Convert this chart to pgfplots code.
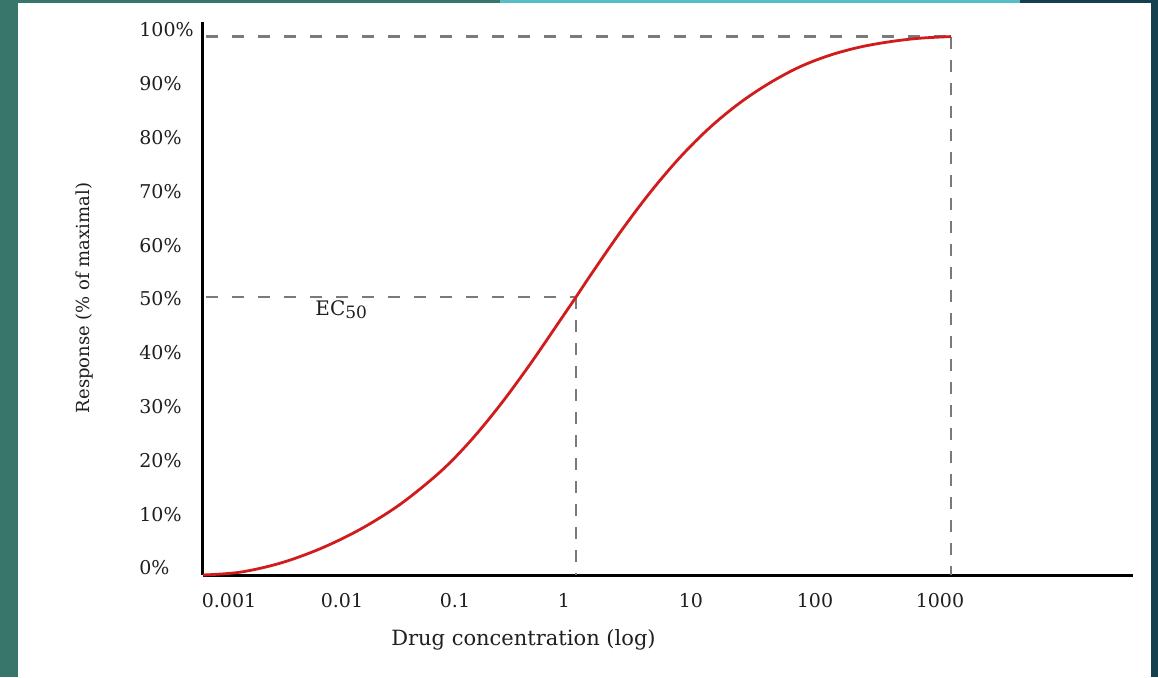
\documentclass[border=0pt]{standalone}
\usepackage{pgfplots}
\pgfplotsset{compat=1.18}
\usepackage{fontspec}
\setmainfont{DejaVu Serif}
\definecolor{teal1}{RGB}{56,118,108}
\definecolor{cyanbar}{RGB}{86,190,198}
\definecolor{darkbar}{RGB}{22,64,78}
\definecolor{curvered}{RGB}{208,28,28}
\definecolor{dashgray}{RGB}{122,122,122}
\pgfplotstableread{
x y
-2.984 -1.30
-2.688 -0.78
-2.368 0.89
-2.048 3.57
-1.728 7.17
-1.408 11.82
-1.088 17.84
-0.848 23.53
-0.608 30.28
-0.368 37.86
-0.128 46.00
0 50.37
0.112 54.29
0.352 62.36
0.592 69.78
0.832 76.34
1.072 81.91
1.312 86.49
1.552 90.20
1.792 93.18
2.032 95.33
2.272 96.84
2.512 97.84
2.752 98.49
3.0 98.79
}\curvedata
\begin{document}
\begin{tikzpicture}
\fill[teal1] (0pt,0pt) rectangle (579pt,338.5pt);
\fill[cyanbar] (250pt,337pt) rectangle (510pt,338.5pt);
\fill[darkbar] (510pt,337pt) rectangle (579pt,338.5pt);
\fill[darkbar] (575.5pt,0pt) rectangle (579pt,338.5pt);
\fill[white] (9pt,0pt) rectangle (575.5pt,337pt);
\path[use as bounding box] (0pt,0pt) rectangle (579pt,338.5pt);
\begin{axis}[
  at={(101.5pt,51pt)}, anchor=south west,
  scale only axis, width=465pt, height=276.5pt,
  xmin=-2.984, xmax=4.456, ymin=-1.3, ymax=101.5,
  axis x line=bottom, axis y line=left,
  axis line style={-, line width=1.5pt, black},
  clip=false,
  major tick length=0pt,
  xtick={-2.776,-1.872,-0.968,-0.096,0.92,1.912,2.912},
  xticklabels={0.001,0.01,0.1,1,10,100,1000},
  ytick={0,10,20,30,40,50,60,70,80,90,100},
  yticklabels={0\%,10\%,20\%,30\%,40\%,50\%,60\%,70\%,80\%,90\%,100\%},
  xticklabel style={anchor=base, yshift=-16pt, font=\fontsize{9.5}{11}\selectfont, text=black!88},
  yticklabel style={anchor=west, inner sep=0pt, xshift=-32pt, font=\fontsize{9.5}{11}\selectfont, text=black!88},
  every axis x label/.style={at={(rel axis cs:0.3446,-0.1175)}, anchor=center},
  every axis y label/.style={at={(rel axis cs:-0.127,0.501)}, rotate=90, anchor=center},
  xlabel={Drug concentration (log)},
  ylabel={Response (\% of maximal)},
  xlabel style={font=\fontsize{10.5}{12}\selectfont, text=black!88},
  ylabel style={font=\fontsize{9}{11}\selectfont, text=black!88},
]
\addplot[dashgray, line width=1.3pt, dash pattern=on 6pt off 7pt] coordinates {(-2.96,98.79) (3,98.79)};
\addplot[dashgray, line width=1.3pt, dash pattern=on 6pt off 5.5pt] coordinates {(3,98.79) (3,-1.3)};
\addplot[dashgray, line width=1.3pt, dash pattern=on 6pt off 7pt] coordinates {(-2.96,50.37) (0,50.37)};
\addplot[dashgray, line width=1.3pt, dash pattern=on 6pt off 5.5pt] coordinates {(0,50.37) (0,-1.3)};
\addplot[curvered, line width=1.4pt, smooth, tension=0.55] table[x=x,y=y] {\curvedata};
\node[anchor=base west, inner sep=0pt, font=\fontsize{10}{12}\selectfont, text=black!88] at (axis cs:-2.088,47.0) {EC\raisebox{-1.5pt}{\fontsize{8.5}{10}\selectfont 50}};
\end{axis}
\end{tikzpicture}
\end{document}
